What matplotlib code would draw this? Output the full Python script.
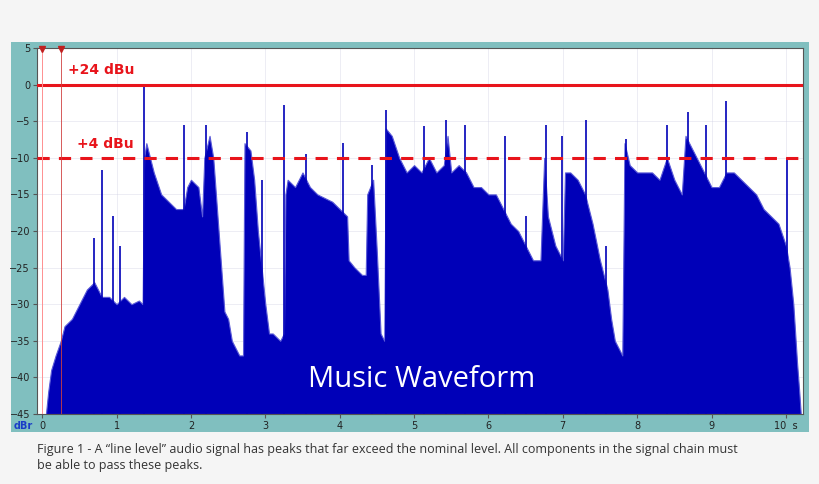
import matplotlib
matplotlib.use("Agg")
import matplotlib.pyplot as plt
import numpy as np

env_t = [0.05,0.08,0.12,0.18,0.25,0.3,0.4,0.5,0.6,0.7,0.8,0.9,1.0,1.1,1.2,1.3,1.35,1.37,1.4,1.5,1.6,1.7,1.8,1.9,1.95,2.0,2.1,2.15,2.18,2.25,2.3,2.35,2.4,2.45,2.5,2.55,2.6,2.65,2.7,2.72,2.8,2.85,2.9,3.0,3.05,3.1,3.2,3.25,3.27,3.3,3.4,3.5,3.6,3.7,3.8,3.9,4.0,4.1,4.12,4.2,4.3,4.35,4.37,4.45,4.5,4.55,4.6,4.62,4.7,4.8,4.9,5.0,5.1,5.2,5.3,5.4,5.45,5.5,5.6,5.7,5.8,5.9,6.0,6.1,6.2,6.3,6.4,6.5,6.6,6.7,6.75,6.8,6.9,6.95,7.0,7.03,7.1,7.2,7.3,7.4,7.5,7.6,7.65,7.7,7.75,7.8,7.83,7.9,8.0,8.1,8.2,8.3,8.4,8.5,8.6,8.65,8.7,8.8,8.9,9.0,9.1,9.2,9.3,9.4,9.5,9.6,9.7,9.8,9.9,10.0,10.05,10.1,10.15,10.18,10.2]
env_db = [-45,-42,-39,-37,-35,-33,-32,-30,-28,-27,-29,-29,-30,-29,-30,-29.5,-30,-10,-8,-12,-15,-16,-17,-17,-14,-13,-14,-18,-10,-7,-10,-17,-24,-31,-32,-35,-36,-37,-37,-8,-9,-13,-20,-30,-34,-34,-35,-34,-15,-13,-14,-12,-14,-15,-15.5,-16,-17,-18,-24,-25,-26,-26,-15,-13,-23,-34,-35,-6,-7,-10,-12,-11,-12,-10,-12,-11,-7,-12,-11,-12,-14,-14,-15,-15,-17,-19,-20,-22,-24,-24,-10,-18,-22,-23,-24,-12,-12,-13,-15,-19,-24,-28,-32,-35,-36,-37,-8,-11,-12,-12,-12,-13,-10,-13,-15,-7,-8,-10,-12,-14,-14,-12,-12,-13,-14,-15,-17,-18,-19,-22,-25,-30,-38,-42,-45]
spike_t = [0.7,0.81,0.95,1.05,1.37,1.9,2.2,2.75,2.95,3.25,3.55,4.05,4.43,4.62,5.14,5.43,5.69,6.22,6.5,6.77,6.99,7.31,7.58,7.85,8.40,8.69,8.93,9.2,10.01]
spike_db = [-21,-11.7,-18,-22,0,-5.5,-5.5,-6.5,-13,-2.8,-9.5,-8,-11,-3.5,-5.7,-4.8,-5.5,-7,-18,-5.5,-7,-4.8,-22,-7.5,-5.5,-3.8,-5.5,-2.3,-10]
x_ticks = list(range(0, 11))
y_ticks = list(range(-45, 6, 5))

W, H = 820, 484
fig = plt.figure(figsize=(8.2, 4.84), dpi=100, facecolor="#f5f5f5")
bg = fig.add_axes([11/W, 1-432/H, (809-11)/W, (432-42)/H], zorder=-5)
bg.set_facecolor("#80bfbf")
bg.set_xticks([]); bg.set_yticks([])
for s in bg.spines.values():
    s.set_visible(False)

ax = fig.add_axes([37/W, 1-414/H, (803-37)/W, (414-48)/H], zorder=1)
ax.set_facecolor("white")
ax.set_xlim(-0.07, 10.23)
ax.set_ylim(-45, 5)

blue = "#0000b8"
ax.fill_between(env_t, -45, env_db, color=blue, lw=0.8, edgecolor="#5a5ad8", zorder=2)
ax.vlines(spike_t, -45, spike_db, color=blue, lw=1.2, zorder=2)

ax.set_xticks(x_ticks)
ax.set_yticks(y_ticks)
ax.grid(True, color="#d0d0e4", lw=0.6, alpha=0.45, zorder=3)
ax.tick_params(labelsize=7, length=3, color="#555555", labelcolor="#222222", pad=2)
ax.set_xticklabels([str(v) for v in x_ticks[:-1]] + ["10  s"])
for s in ax.spines.values():
    s.set_color("#555555")
    s.set_linewidth(0.8)

ax.axhline(0, color="#e8141b", lw=2.2, zorder=4)
ax.axhline(-10, color="#e8141b", lw=2.2, ls=(0, (4, 3)), zorder=4)
ax.axvline(0, color="#ff9090", lw=0.7, zorder=4)
ax.axvline(0.25, color="#d04040", lw=0.6, zorder=4)
ax.plot([0, 0.25], [4.9, 4.9], ls="none", marker="v", color="#c02020", ms=5, clip_on=False, zorder=5)
ax.text(0.35, 1.0, "+24 dBu", color="#e8141b", fontsize=10, fontweight="bold", va="bottom", zorder=5)
ax.text(0.47, -9.1, "+4 dBu", color="#e8141b", fontsize=10, fontweight="bold", va="bottom", zorder=5)
ax.text(5.1, -40.3, "Music Waveform", color="white", fontsize=21, ha="center", va="center",
        family="Open Sans", zorder=6)
fig.text(14/W, 1-426/H, "dBr", color="#1a3cc8", fontsize=7, fontweight="bold", va="center")

fig.text(37/W, 1-449/H, "Figure 1 - A \u201cline level\u201d audio signal has peaks that far exceed the nominal level. All components in the signal chain must",
         fontsize=9.0, color="#333333", va="center", family="Open Sans")
fig.text(37/W, 1-466/H, "be able to pass these peaks.", fontsize=9.0, color="#333333", va="center", family="Open Sans")

fig.savefig("out.png", dpi=100, facecolor=fig.get_facecolor())
